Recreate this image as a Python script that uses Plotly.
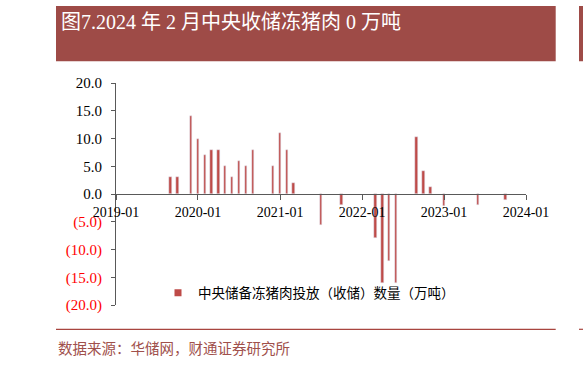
import plotly.graph_objects as go

months = ["2019-09-01", "2019-10-01", "2019-12-01", "2020-01-01", "2020-02-01", "2020-03-01",
          "2020-04-01", "2020-05-01", "2020-06-01", "2020-07-01", "2020-08-01", "2020-09-01",
          "2020-12-01", "2021-01-01", "2021-02-01", "2021-03-01", "2021-07-01", "2021-10-01",
          "2022-03-01", "2022-04-01", "2022-05-01", "2022-06-01", "2022-09-01", "2022-10-01",
          "2022-11-01", "2023-01-01", "2023-06-01", "2023-10-01"]
values = [3, 3, 14, 10, 7, 8,
          8, 5, 3, 6, 5, 8,
          5, 11, 8, 2, -5.5, -2,
          -8, -16, -12, -16, 10.3, 4.1,
          1.2, -2.2, -2, -1.1]

x_tick_vals = ["2019-01-01", "2020-01-01", "2021-01-01", "2022-01-01", "2023-01-01", "2024-01-01"]
x_tick_text = ["2019-01", "2020-01", "2021-01", "2022-01", "2023-01", "2024-01"]
y_tick_vals = [20, 15, 10, 5, 0, -5, -10, -15, -20]

series_name = "中央储备冻猪肉投放（收储）数量（万吨）"
title_text = "图7.2024 年 2 月中央收储冻猪肉 0 万吨"
source_text = "数据来源：华储网，财通证券研究所"

BAR_COLOR = "#BE4B48"
BOX_COLOR = "#9E4B47"
AXIS_COLOR = "#595959"
SERIF = "Liberation Serif, Noto Sans CJK SC"
CJK = "Noto Sans CJK SC"

def ylab(v):
    if v < 0:
        return '<span style="color:#FF0000">(%.1f)</span>' % abs(v)
    return "%.1f" % v

fig = go.Figure()
fig.add_trace(go.Bar(x=months, y=values, marker_color=BAR_COLOR, width=11 * 86400000,
                     showlegend=False, name=series_name))
fig.add_trace(go.Scatter(x=[None], y=[None], mode="markers", name=series_name,
                         marker=dict(symbol="square", size=7, color=BAR_COLOR)))

L, R, T, B = 116, 57, 83, 61
W, H = 583, 366
pw, ph = W - L - R, H - T - B

def px(x):
    return (x - L) / pw

def py(y):
    return (H - B - y) / ph

fig.update_layout(
    width=W, height=H, margin=dict(l=L, r=R, t=T, b=B),
    paper_bgcolor="white", plot_bgcolor="white",
    bargap=0,
    xaxis=dict(type="date", range=["2019-01-01", "2024-01-01"], anchor="free", position=0.5,
               tickvals=x_tick_vals, ticktext=x_tick_text, showline=True, linecolor=AXIS_COLOR,
               linewidth=1, ticks="outside", ticklen=5, tickcolor=AXIS_COLOR, showgrid=False,
               zeroline=False, tickfont=dict(family=SERIF, size=14, color="#000000")),
    yaxis=dict(range=[-20, 20], tickvals=y_tick_vals, ticktext=[ylab(v) for v in y_tick_vals],
               showline=True, linecolor=AXIS_COLOR, linewidth=1, ticks="outside", ticklen=4,
               tickcolor=AXIS_COLOR, showgrid=False, zeroline=False, ticklabelstandoff=6,
               tickfont=dict(family=SERIF, size=15, color="#000000")),
    legend=dict(x=px(158), y=py(293), xanchor="left", yanchor="middle", bgcolor="rgba(0,0,0,0)",
                font=dict(family=CJK, size=13.5, color="#000000")),
    showlegend=True,
)

shapes = [
    dict(type="rect", xref="paper", yref="paper", x0=px(56), x1=px(555.7), y0=py(61.3), y1=py(6),
         fillcolor=BOX_COLOR, line=dict(width=0), layer="below"),
    dict(type="rect", xref="paper", yref="paper", x0=px(579), x1=px(600), y0=py(61.3), y1=py(6),
         fillcolor=BOX_COLOR, line=dict(width=0), layer="below"),
    dict(type="line", xref="paper", yref="paper", x0=px(56), x1=px(555.7), y0=py(329.3), y1=py(329.3),
         line=dict(color="#A8453F", width=1.2)),
    dict(type="line", xref="paper", yref="paper", x0=px(579), x1=px(600), y0=py(329.3), y1=py(329.3),
         line=dict(color="#A8453F", width=1.2)),
]
fig.update_layout(shapes=shapes)

fig.add_annotation(text=title_text, xref="paper", yref="paper", x=px(59), y=py(21.5),
                   xanchor="left", yanchor="middle", showarrow=False,
                   font=dict(family=SERIF, size=20, color="white"))
fig.add_annotation(text=source_text, xref="paper", yref="paper", x=px(56), y=py(347.3),
                   xanchor="left", yanchor="middle", showarrow=False,
                   font=dict(family=CJK, size=14.5, color="#A0504B"))

fig.write_html("out.html", config={"displayModeBar": False},
               post_script="document.body.style.margin='0px';")
